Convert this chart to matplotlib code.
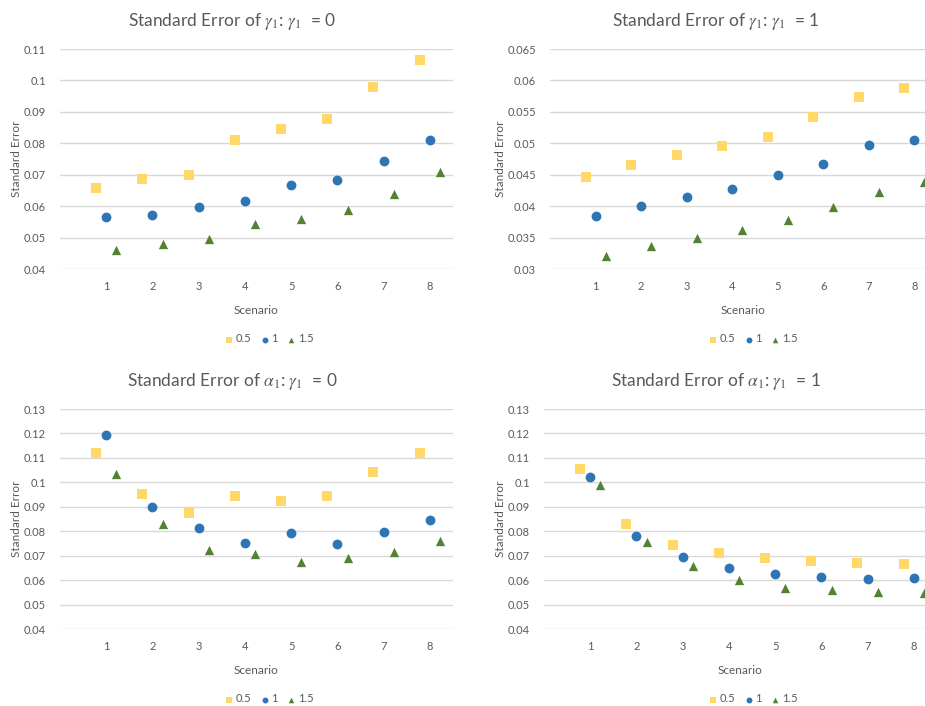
import matplotlib
matplotlib.use("Agg")
import matplotlib.pyplot as plt
import numpy as np

plt.rcParams["font.family"] = ["Lato", "DejaVu Sans"]
plt.rcParams["mathtext.fontset"] = "stix"

scenarios = np.arange(1, 9)
series_names = ["0.5", "1", "1.5"]

# gamma_1 standard error, gamma_1 = 0
g0_05 = [0.0657, 0.0685, 0.0699, 0.0810, 0.0845, 0.0877, 0.0979, 0.1065]
g0_10 = [0.0564, 0.0571, 0.0596, 0.0615, 0.0666, 0.0682, 0.0743, 0.0809]
g0_15 = [0.0462, 0.0480, 0.0497, 0.0544, 0.0560, 0.0589, 0.0640, 0.0710]

# gamma_1 standard error, gamma_1 = 1
g1_05 = [0.0447, 0.0465, 0.0481, 0.0496, 0.0510, 0.0542, 0.0574, 0.0588]
g1_10 = [0.0384, 0.0400, 0.0414, 0.0428, 0.0449, 0.0467, 0.0498, 0.0505]
g1_15 = [0.0321, 0.0336, 0.0350, 0.0362, 0.0378, 0.0399, 0.0422, 0.0439]

# alpha_1 standard error, gamma_1 = 0
a0_05 = [0.1122, 0.0952, 0.0876, 0.0946, 0.0925, 0.0946, 0.1044, 0.1122]
a0_10 = [0.1195, 0.0901, 0.0815, 0.0753, 0.0794, 0.0748, 0.0798, 0.0846]
a0_15 = [0.1034, 0.0828, 0.0722, 0.0706, 0.0673, 0.0689, 0.0714, 0.0759]

# alpha_1 standard error, gamma_1 = 1
a1_05 = [0.1056, 0.0831, 0.0744, 0.0711, 0.0691, 0.0678, 0.0670, 0.0666]
a1_10 = [0.1022, 0.0781, 0.0695, 0.0650, 0.0625, 0.0613, 0.0605, 0.0609]
a1_15 = [0.0988, 0.0755, 0.0656, 0.0599, 0.0569, 0.0558, 0.0550, 0.0547]

panels = [
    (r"Standard Error of $\gamma_1$: $\gamma_1$  = 0", [g0_05, g0_10, g0_15], (0.04, 0.11, 0.01)),
    (r"Standard Error of $\gamma_1$: $\gamma_1$  = 1", [g1_05, g1_10, g1_15], (0.03, 0.065, 0.005)),
    (r"Standard Error of $\alpha_1$: $\gamma_1$  = 0", [a0_05, a0_10, a0_15], (0.04, 0.13, 0.01)),
    (r"Standard Error of $\alpha_1$: $\gamma_1$  = 1", [a1_05, a1_10, a1_15], (0.04, 0.13, 0.01)),
]

W, H = 925, 706
# axes boxes in pixels: left, top, right, bottom
boxes = [(60, 49, 453, 269), (550, 49, 937, 269), (60, 409, 453, 629), (544, 409, 937, 629)]
title_x = [232, 716, 232, 716]
legend_x = [268, 752, 268, 752]

colors = ["#FFD966", "#2E75B6", "#548235"]
markers = ["s", "o", "^"]
offsets = [-0.22, 0.0, 0.22]
sizes = [50, 50, 45]
grey = "#595959"

fig = plt.figure(figsize=(9.25, 7.06), dpi=100)

for i, (title, data, (ymin, ymax, step)) in enumerate(panels):
    l, t, r, b = boxes[i]
    ax = fig.add_axes([l / W, 1 - b / H, (r - l) / W, (b - t) / H])
    for k in range(3):
        ax.scatter(scenarios + offsets[k], data[k], s=sizes[k], marker=markers[k],
                   color=colors[k], label=series_names[k], zorder=3, linewidths=0)
    ax.set_xlim(0, 8.5)
    ax.set_ylim(ymin, ymax)
    ax.set_xticks(scenarios)
    yt = np.arange(ymin, ymax + step / 2, step)
    ax.set_yticks(yt)
    ax.set_yticklabels(["%g" % round(v, 3) for v in yt])
    ax.grid(axis="y", color="#D9D9D9", linewidth=1)
    ax.set_axisbelow(True)
    for s in ax.spines.values():
        s.set_visible(False)
    ax.tick_params(length=0, labelsize=8, labelcolor=grey)
    ax.tick_params(axis="x", pad=9)
    ax.tick_params(axis="y", pad=10)
    ax.set_xlabel("Scenario", fontsize=8.5, color=grey, labelpad=9)
    ax.set_ylabel("Standard Error", fontsize=8.5, color=grey, labelpad=1)
    fig.text(title_x[i] / W, 1 - (t - 27) / H, title, ha="center", va="center",
             fontsize=12.5, color=grey)
    ax.legend(loc="center", bbox_to_anchor=(legend_x[i] / W, 1 - (b + 70) / H),
              bbox_transform=fig.transFigure, ncol=3, frameon=False, fontsize=8,
              labelcolor=grey, handletextpad=0.0, columnspacing=0.6, markerscale=0.6,
              handlelength=1.2)

fig.savefig("out.png", dpi=100)
